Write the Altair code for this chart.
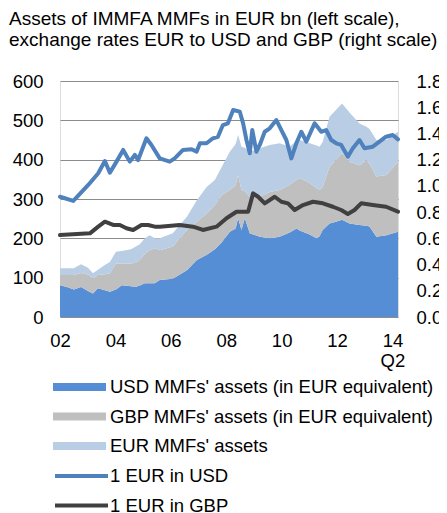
import altair as alt
import pandas as pd

FONT = "Liberation Sans"

# ---- stacked areas (EUR bn) ----
area_years = [2002.00, 2002.25, 2002.50, 2002.76, 2003.01, 2003.19, 2003.37, 2003.62,
              2003.80, 2004.02, 2004.23, 2004.56, 2004.74, 2004.88, 2005.06, 2005.24,
              2005.42, 2005.60, 2006.07, 2006.58, 2006.94, 2007.30, 2007.59, 2007.84,
              2008.13, 2008.34, 2008.43, 2008.55, 2008.67, 2008.85, 2009.21, 2009.57,
              2009.93, 2010.29, 2010.54, 2010.65, 2010.90, 2011.01, 2011.26, 2011.37,
              2011.48, 2011.73, 2011.96, 2012.18, 2012.45, 2012.81, 2013.06, 2013.17,
              2013.42, 2013.78, 2014.20]
usd_assets = [81, 76, 70, 76, 66, 60, 73, 68, 64, 70, 81, 78, 77, 80, 86, 86,
              86, 94, 97, 119, 145, 158, 172, 190, 217, 225, 251, 221, 251, 213, 204, 200,
              204, 215, 225, 220, 213, 210, 200, 205, 221, 238, 242, 247, 238, 234, 232, 230,
              204, 208, 217]
gbp_assets = [26, 31, 37, 36, 42, 38, 34, 41, 47, 66, 55, 58, 61, 65, 74, 84,
              89, 76, 82, 102, 97, 106, 113, 120, 106, 110, 110, 102, 69, 93, 102, 118,
              119, 121, 123, 133, 132, 130, 128, 118, 109, 144, 158, 169, 157, 152, 167, 160,
              153, 153, 178]
eur_assets = [17, 17, 17, 22, 17, 13, 13, 23, 29, 30, 32, 36, 41, 40, 40, 38,
              25, 30, 34, 34, 55, 67, 63, 72, 97, 105, 102, 110, 110, 114, 123, 119,
              119, 97, 100, 97, 100, 102, 108, 110, 115, 127, 126, 127, 125, 106, 85, 88,
              93, 89, 76]

# ---- exchange rates (right scale) ----
usd_years = [2002.00, 2002.48, 2003.02, 2003.38, 2003.62, 2003.80, 2004.04, 2004.28, 2004.52,
             2004.70, 2004.82, 2005.12, 2005.30, 2005.60, 2005.96, 2006.14, 2006.44, 2006.75,
             2006.93, 2007.05, 2007.29, 2007.52, 2007.70, 2007.88, 2008.06, 2008.25, 2008.49,
             2008.61, 2008.73, 2008.85, 2008.94, 2009.09, 2009.21, 2009.39, 2009.57, 2009.81,
             2009.99, 2010.17, 2010.35, 2010.53, 2010.71, 2010.89, 2011.19, 2011.43, 2011.61,
             2011.79, 2011.97, 2012.15, 2012.39, 2012.57, 2012.81, 2012.99, 2013.29, 2013.53,
             2013.77, 2014.01, 2014.20]
usd_rate = [0.917, 0.885, 1.007, 1.096, 1.190, 1.100, 1.185, 1.274, 1.185,
            1.236, 1.197, 1.363, 1.312, 1.210, 1.185, 1.210, 1.274, 1.279,
            1.261, 1.325, 1.325, 1.363, 1.375, 1.464, 1.477, 1.579, 1.566,
            1.477, 1.350, 1.249, 1.426, 1.261, 1.312, 1.413, 1.439, 1.502,
            1.426, 1.350, 1.210, 1.325, 1.413, 1.337, 1.477, 1.413, 1.426,
            1.350, 1.325, 1.312, 1.223, 1.287, 1.350, 1.287, 1.299, 1.337,
            1.375, 1.388, 1.355]
gbp_years = [2002.00, 2003.08, 2003.38, 2003.62, 2003.92, 2004.16, 2004.40, 2004.64, 2004.94,
             2005.18, 2005.42, 2005.60, 2006.32, 2006.80, 2007.16, 2007.65, 2008.01, 2008.37,
             2008.79, 2008.97, 2009.15, 2009.39, 2009.75, 2009.99, 2010.23, 2010.47, 2010.77,
             2011.13, 2011.49, 2011.85, 2012.15, 2012.39, 2012.63, 2012.87, 2013.29, 2013.77,
             2014.20]
gbp_rate = [0.625, 0.638, 0.689, 0.727, 0.702, 0.702, 0.677, 0.664, 0.702,
            0.702, 0.689, 0.689, 0.702, 0.689, 0.664, 0.689, 0.753, 0.803,
            0.803, 0.943, 0.917, 0.867, 0.917, 0.879, 0.867, 0.816, 0.854,
            0.879, 0.867, 0.841, 0.816, 0.786, 0.816, 0.867, 0.854, 0.841,
            0.803]

area_names = ["USD MMFs' assets (in EUR equivalent)",
              "GBP MMFs' assets (in EUR equivalent)",
              "EUR MMFs' assets"]
area_colors = ["#558ED5", "#BFBFBF", "#B9CDE5"]
rate_names = ["1 EUR in USD", "1 EUR in GBP"]
rate_colors = ["#4F81BD", "#404040"]

x_ticks = [2002, 2004, 2006, 2008, 2010, 2012, 2014]
left_ticks = [0, 100, 200, 300, 400, 500, 600]
right_ticks = [0.0, 0.2, 0.4, 0.6, 0.8, 1.0, 1.2, 1.4, 1.6, 1.8]

rows = []
for i, name in enumerate(area_names):
    vals = [usd_assets, gbp_assets, eur_assets][i]
    for yr, v in zip(area_years, vals):
        rows.append({"year": yr, "value": v, "series": name, "idx": i})
area_df = pd.DataFrame(rows)

rrows = []
for name, yrs, vals in [(rate_names[0], usd_years, usd_rate), (rate_names[1], gbp_years, gbp_rate)]:
    for yr, v in zip(yrs, vals):
        rrows.append({"year": yr, "rate": v, "name": name})
rate_df = pd.DataFrame(rrows)

x_scale = alt.Scale(domain=[2002, 2014.2], nice=False, zero=False)

x_enc = alt.X("year:Q", scale=x_scale,
              axis=alt.Axis(values=x_ticks, title=None, grid=False, domain=False, ticks=False,
                            tickSize=0, labelPadding=14, labelFontSize=18.5, labelLineHeight=20,
                            labelFlush=False, labelColor="#000000", labelFont=FONT,
                            labelExpr="datum.value == 2014 ? ['14', 'Q2'] : substring(toString(datum.value), 2, 4)"))

legend_common = dict(orient="none", legendX=-7, direction="vertical", title=None,
                     symbolSize=2809, labelFontSize=18.5, labelFont=FONT, labelColor="#000000",
                     labelLimit=500, clipHeight=20, rowPadding=9.5, padding=0)

areas = alt.Chart(area_df).mark_area(opacity=1, interpolate="linear").encode(
    x=x_enc,
    y=alt.Y("value:Q", stack="zero",
            scale=alt.Scale(domain=[0, 600], nice=False),
            axis=alt.Axis(values=left_ticks, title=None, grid=True, gridColor="#8C8C8C",
                          gridWidth=1, domain=False, ticks=False, tickSize=0, labelPadding=17,
                          labelFontSize=18.5, labelColor="#000000", labelFont=FONT)),
    fill=alt.Fill("series:N",
                  scale=alt.Scale(domain=area_names, range=area_colors),
                  legend=alt.Legend(legendY=296, symbolType="M-1,-0.15H1V0.15H-1Z",
                                    symbolStrokeWidth=0, labelOffset=4, **legend_common)),
    order=alt.Order("idx:Q"),
)

lines = alt.Chart(rate_df).mark_line(strokeWidth=4, strokeCap="round", strokeJoin="round").encode(
    x=alt.X("year:Q", scale=x_scale),
    y=alt.Y("rate:Q",
            scale=alt.Scale(domain=[0, 1.8], nice=False),
            axis=alt.Axis(orient="right", values=right_ticks, format=".2f", title=None, grid=False,
                          domain=False, ticks=False, tickSize=0, labelPadding=18,
                          labelFontSize=18.5, labelColor="#000000", labelFont=FONT)),
    stroke=alt.Stroke("name:N",
                      scale=alt.Scale(domain=rate_names, range=rate_colors),
                      legend=alt.Legend(legendY=385, symbolType="stroke", symbolStrokeWidth=4,
                                        labelOffset=0, **legend_common)),
)

chart = alt.layer(areas, lines).resolve_scale(y="independent").properties(
    width=338, height=236,
    autosize=alt.AutoSizeParams(type="none"),
    padding={"left": 52, "top": 73, "right": 41, "bottom": 196},
    title=alt.Title(["Assets of IMMFA MMFs in EUR bn (left scale),",
                     "exchange rates EUR to USD and GBP (right scale)"],
                    anchor="start", frame="group", fontSize=19, font=FONT, fontWeight="normal",
                    color="#000000", lineHeight=21, dx=-51, offset=22),
).configure_view(stroke=None).configure(background="white")

chart.save("out.html", embed_options={"renderer": "svg", "actions": False})
